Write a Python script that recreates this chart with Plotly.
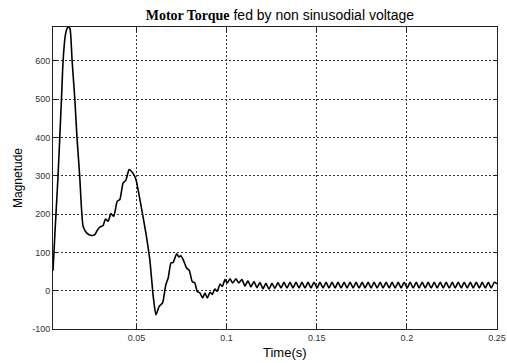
import plotly.graph_objects as go

# Transient part (time in s, torque value)
t_transient = [0.0037, 0.0050, 0.0065, 0.0084, 0.0093, 0.0105, 0.0116, 0.0124, 0.0132, 0.0143,
               0.0158, 0.0170, 0.0185, 0.0204, 0.0225, 0.0250, 0.0269, 0.0283, 0.0296, 0.0315,
               0.0328, 0.0343, 0.0358, 0.0374, 0.0393, 0.0408, 0.0426, 0.0441, 0.0459, 0.0473,
               0.0491, 0.0500, 0.0519, 0.0552, 0.0574, 0.0593, 0.0608, 0.0626, 0.0645, 0.0663,
               0.0676, 0.0691, 0.0704, 0.0723, 0.0735, 0.0746, 0.0759, 0.0778, 0.0793, 0.0809,
               0.0824, 0.0837, 0.0852, 0.0867, 0.0880, 0.0893, 0.0908, 0.0920, 0.0935, 0.0948,
               0.0963, 0.0976, 0.0991, 0.1004, 0.1019, 0.1034, 0.1052, 0.1067]
v_transient = [52, 170, 300, 500, 600, 665, 685, 688, 682, 600,
               500, 400, 300, 168, 150, 144, 146, 158, 166, 170,
               187, 181, 201, 194, 233, 238, 281, 288, 316, 311,
               298, 285, 238, 151, 81, -15, -63, -41, -32, 16,
               33, 72, 74, 96, 88, 91, 81, 59, 53, 24,
               20, -2, -6, -19, -6, -19, -4, -10, 4, -2,
               17, 11, 29, 20, 31, 20, 31, 20]

# Steady-state ripple (peaks and troughs)
t_steady = [0.1085, 0.1102, 0.1118, 0.1135, 0.1152, 0.1168, 0.1185, 0.1202, 0.1218, 0.1235,
            0.1252, 0.1268, 0.1285, 0.1302, 0.1318, 0.1335, 0.1352, 0.1368, 0.1385, 0.1402,
            0.1418, 0.1435, 0.1452, 0.1468, 0.1485, 0.1502, 0.1518, 0.1535, 0.1552, 0.1568,
            0.1585, 0.1602, 0.1618, 0.1635, 0.1652, 0.1668, 0.1685, 0.1702, 0.1718, 0.1735,
            0.1752, 0.1768, 0.1785, 0.1802, 0.1818, 0.1835, 0.1852, 0.1868, 0.1885, 0.1902,
            0.1918, 0.1935, 0.1952, 0.1968, 0.1985, 0.2002, 0.2018, 0.2035, 0.2052, 0.2068,
            0.2085, 0.2102, 0.2118, 0.2135, 0.2152, 0.2168, 0.2185, 0.2202, 0.2218, 0.2235,
            0.2252, 0.2268, 0.2285, 0.2302, 0.2318, 0.2335, 0.2352, 0.2368, 0.2385, 0.2402,
            0.2418, 0.2435, 0.2452, 0.2468, 0.2485, 0.2500]
v_steady = [29, 12, 26, 10, 24, 8, 21, 5, 19, 4,
            19, 6, 21, 7, 22, 7, 22, 7, 22, 7,
            22, 7, 22, 7, 22, 7, 22, 7, 22, 7,
            22, 7, 22, 7, 22, 7, 22, 7, 22, 7,
            22, 7, 22, 7, 22, 7, 22, 7, 22, 7,
            22, 7, 22, 7, 22, 7, 22, 7, 22, 7,
            22, 7, 22, 7, 22, 7, 22, 7, 22, 7,
            22, 7, 22, 7, 22, 7, 22, 7, 22, 7,
            22, 7, 22, 7, 22, 18]

x_ticks = [0.05, 0.1, 0.15, 0.2, 0.25]
x_tick_labels = ["0.05", "0.1", "0.15", "0.2", "0.25"]
y_ticks = [-100, 0, 100, 200, 300, 400, 500, 600]
y_tick_labels = ["-100", "0", "100", "200", "300", "400", "500", "600"]

t_all = t_transient + t_steady
v_all = v_transient + v_steady

fig = go.Figure()
fig.add_trace(go.Scatter(x=t_all, y=v_all, mode="lines",
                         line=dict(color="black", width=1.6, shape="spline", smoothing=0.5),
                         showlegend=False))

axis_common = dict(showline=True, linecolor="#222", linewidth=1, mirror="ticks",
                   ticks="inside", ticklen=4, tickcolor="#222", automargin=False,
                   showgrid=True, gridcolor="#333", gridwidth=1, griddash="2px,2px",
                   zeroline=False, tickfont=dict(family="Liberation Sans, Arial", size=9, color="#333"))

fig.update_xaxes(range=[0.0037, 0.25], tickvals=x_ticks, ticktext=x_tick_labels, **axis_common)
fig.update_yaxes(range=[-100, 688], tickvals=y_ticks, ticktext=y_tick_labels, **axis_common)

fig.add_annotation(text="Time(s)", xref="paper", yref="paper", x=0.5225, y=-0.0762,
                   xanchor="center", yanchor="middle", showarrow=False,
                   font=dict(family="Liberation Sans, Arial", size=13, color="black"))
fig.add_annotation(text="Magnetude", xref="paper", yref="paper", x=-0.0788, y=0.5,
                   xanchor="center", yanchor="middle", showarrow=False, textangle=-90,
                   font=dict(family="Liberation Sans, Arial", size=12, color="black"))

fig.update_layout(
    width=507, height=363,
    margin=dict(l=53, r=10, t=27, b=34),
    paper_bgcolor="white", plot_bgcolor="white",
    title=dict(text="<span style='font-family:Liberation Serif;font-weight:bold'>Motor Torque</span> fed by non sinusodial voltage",
               font=dict(family="Liberation Sans, Arial", size=14, color="black"),
               x=0.552, xanchor="center", y=0.958, yanchor="middle"),
)

fig.write_html("out.html")
